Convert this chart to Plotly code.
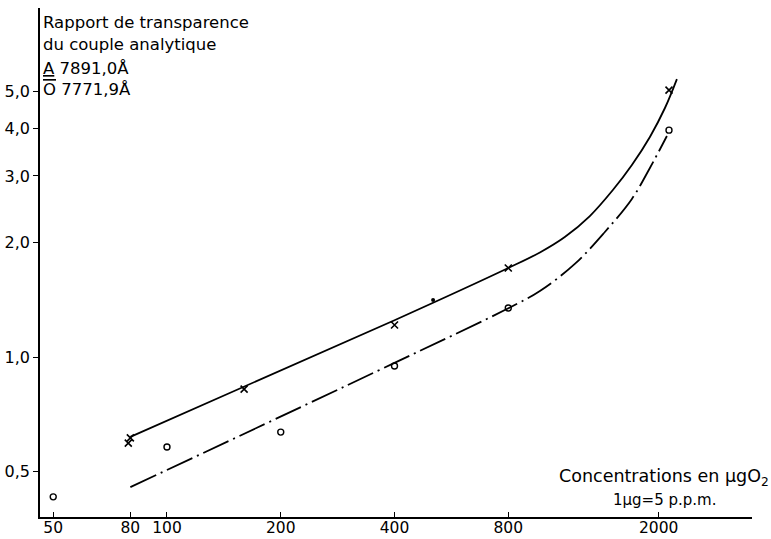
import plotly.graph_objects as go

# Measured points, line A (7891,0 Å) - crosses
cross_x = [79, 80, 160, 400, 800, 2130]
cross_y = [0.593, 0.612, 0.823, 1.214, 1.716, 5.05]

# Extra mark on line A
dot_x = [506]
dot_y = [1.413]

# Measured points, line O (7771,9 Å) - circles
circle_x = [50, 100, 200, 400, 800, 2130]
circle_y = [0.428, 0.579, 0.634, 0.947, 1.346, 3.96]

# Hand-drawn calibration curves
curve_a_x = [80, 400, 800, 970, 1129, 1315, 1513, 1699, 1896, 2078, 2235]
curve_a_y = [0.616, 1.25, 1.716, 1.886, 2.071, 2.352, 2.754, 3.206, 3.8, 4.53, 5.40]
curve_o_x = [80, 400, 793, 970, 1200, 1441, 1699, 1896, 2103]
curve_o_y = [0.454, 0.965, 1.338, 1.493, 1.759, 2.135, 2.609, 3.148, 3.823]

# Axis ticks
x_ticks = [50, 80, 100, 200, 400, 800, 2000]
x_labels = ["50", "80", "100", "200", "400", "800", "2000"]
y_ticks = [0.5, 1.0, 2.0, 3.0, 4.0, 5.0]
y_labels = ["0,5", "1,0", "2,0", "3,0", "4,0", "5,0"]

FONT = "DejaVu Sans"
INK = "black"

fig = go.Figure()

fig.add_trace(go.Scatter(
    x=curve_a_x, y=curve_a_y, mode="lines",
    line=dict(color=INK, width=1.8, shape="spline", smoothing=1.0),
    hoverinfo="skip"))
fig.add_trace(go.Scatter(
    x=curve_o_x, y=curve_o_y, mode="lines",
    line=dict(color=INK, width=1.8, shape="spline", smoothing=1.0,
              dash="28px,5px,2px,5px"),
    hoverinfo="skip"))
fig.add_trace(go.Scatter(
    x=cross_x, y=cross_y, mode="markers",
    marker=dict(symbol="x-thin-open", size=7, color=INK,
                line=dict(color=INK, width=1.6))))
fig.add_trace(go.Scatter(
    x=dot_x, y=dot_y, mode="markers",
    marker=dict(symbol="circle", size=4, color=INK)))
fig.add_trace(go.Scatter(
    x=circle_x, y=circle_y, mode="markers",
    marker=dict(symbol="circle-open", size=6, color=INK,
                line=dict(color=INK, width=1.4))))

W, H = 771, 539
ML, MR, MT, MB = 40, 19, 8, 22
PW, PH = W - ML - MR, H - MT - MB


def px(xp):
    return (xp - ML) / PW


def py(yp):
    return (H - MB - yp) / PH


notes = [
    ("Rapport de transparence", 41, 22),
    ("du couple analytique", 41, 44),
    ("<u>A</u> 7891,0Å", 41, 68),
    ("<span style='text-decoration:overline'>O</span> 7771,9Å", 41, 89),
]
for text, xp, yp in notes:
    fig.add_annotation(text=text, x=px(xp), y=py(yp), xref="paper", yref="paper",
                       xanchor="left", yanchor="middle", showarrow=False,
                       font=dict(family=FONT, size=16.5, color=INK))

fig.add_annotation(text="Concentrations en μgO<sub>2</sub>", x=px(771), y=py(477),
                   xref="paper", yref="paper", xanchor="right", yanchor="middle",
                   showarrow=False, font=dict(family=FONT, size=17.5, color=INK))
fig.add_annotation(text="1μg=5 p.p.m.", x=px(664), y=py(500),
                   xref="paper", yref="paper", xanchor="center", yanchor="middle",
                   showarrow=False, font=dict(family=FONT, size=15, color=INK))

fig.update_layout(
    width=W, height=H,
    margin=dict(l=ML, r=MR, t=MT, b=MB),
    paper_bgcolor="white", plot_bgcolor="white",
    showlegend=False,
    font=dict(family=FONT, size=16, color=INK),
    xaxis=dict(type="log", range=[1.664, 3.548], tickvals=x_ticks, ticktext=x_labels,
               showgrid=False, zeroline=False, showline=True, linecolor=INK,
               linewidth=1.5, ticks="inside", ticklen=5, tickcolor=INK,
               tickwidth=1, automargin=False, ticklabelstandoff=-4,
               tickfont=dict(family=FONT, size=15.5, color=INK)),
    yaxis=dict(type="log", range=[-0.4216, 0.9196], tickvals=y_ticks, ticktext=y_labels,
               showgrid=False, zeroline=False, showline=True, linecolor=INK,
               linewidth=1.5, ticks="outside", ticklen=5, tickcolor=INK,
               tickwidth=1, automargin=False,
               tickfont=dict(family=FONT, size=16, color=INK)),
)

fig.write_html("out.html")
